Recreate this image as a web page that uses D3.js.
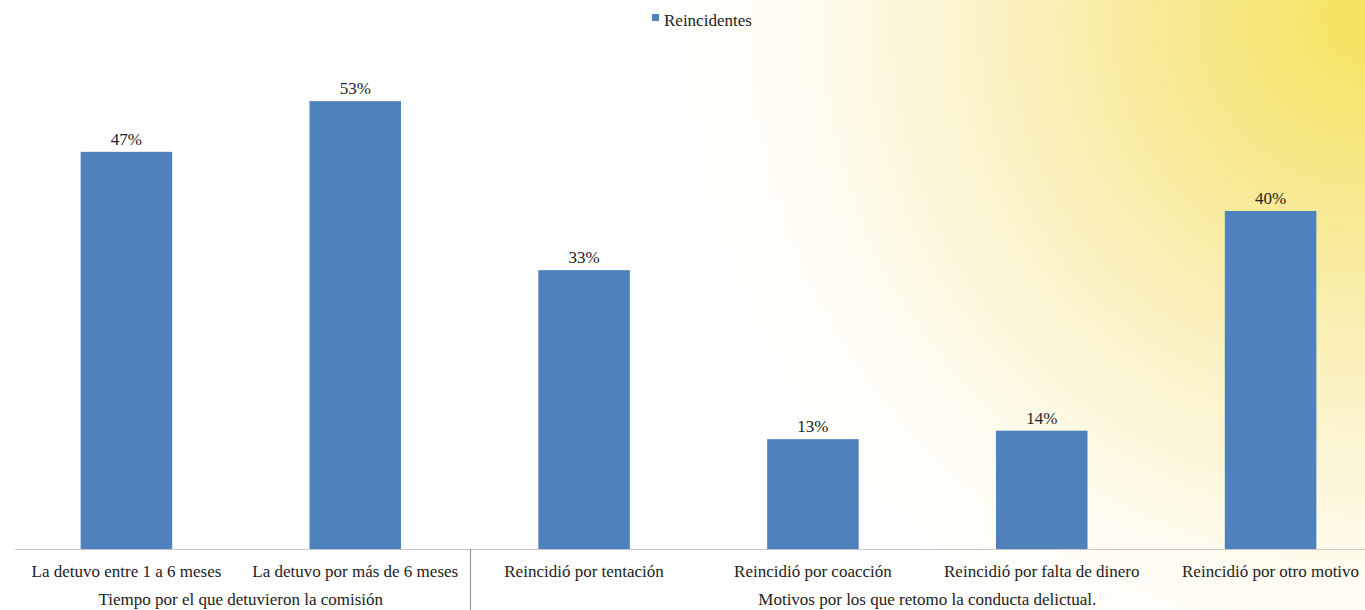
<!DOCTYPE html>
<html>
<head>
<meta charset="utf-8">
<script src="https://cdn.jsdelivr.net/npm/d3@7"></script>
<style>
  body { margin: 0; overflow: hidden; }
  svg text { font-family: "Liberation Serif", "DejaVu Serif", "Times New Roman", serif; }
</style>
</head>
<body>
<svg id="chart" width="1365" height="610"></svg>
<script>
// data
let categories = ["La detuvo entre 1 a 6 meses", "La detuvo por más de 6 meses",
                  "Reincidió por tentación", "Reincidió por coacción",
                  "Reincidió por falta de dinero", "Reincidió por otro motivo"];
let values = [47, 53, 33, 13, 14, 40];
let groups = ["Tiempo por el que detuvieron la comisión",
              "Motivos por los que retomo la conducta delictual."];
let group_of = [0, 0, 1, 1, 1, 1];
let series_name = "Reincidentes";

let font = "Liberation Serif";
let font_size = 17;
let chart = d3.select("#chart");
let chart_width = 1365, chart_height = 610;

// background glow in the top right corner
let defs = chart.append("defs");
let grad = defs.append("radialGradient")
    .attr("id", "glow")
    .attr("gradientUnits", "userSpaceOnUse")
    .attr("cx", 1365).attr("cy", 20).attr("r", 700);
grad.append("stop").attr("offset", "0%").attr("stop-color", "#f6e35c");
grad.append("stop").attr("offset", "25%").attr("stop-color", "#f7e98e");
grad.append("stop").attr("offset", "55%").attr("stop-color", "#fbf3c8");
grad.append("stop").attr("offset", "80%").attr("stop-color", "#fefcf0");
grad.append("stop").attr("offset", "100%").attr("stop-color", "#ffffff");

chart.append("rect")
    .attr("width", chart_width).attr("height", chart_height)
    .attr("fill", "url(#glow)");

// scales
let x = d3.scaleBand()
    .domain(categories)
    .range([12, 1385])
    .paddingInner(0.6)
    .paddingOuter(0.3);

let y = d3.scaleLinear()
    .domain([0, 60])
    .range([549, 42]);

// bars
chart.selectAll("rect.bar")
    .data(values).enter()
    .append("rect")
        .attr("class", "bar")
        .attr("x", function(d, i) { return x(categories[i]); })
        .attr("y", function(d) { return y(d); })
        .attr("width", x.bandwidth())
        .attr("height", function(d) { return y(0) - y(d); })
        .attr("fill", "#4f81bd");

// value labels
chart.selectAll("text.val")
    .data(values).enter()
    .append("text")
        .attr("class", "val")
        .attr("x", function(d, i) { return x(categories[i]) + x.bandwidth() / 2; })
        .attr("y", function(d) { return y(d) - 7; })
        .attr("text-anchor", "middle")
        .attr("font-family", font)
        .attr("font-size", font_size)
        .attr("fill", "#222")
        .text(function(d) { return d + "%"; });

// axis line
chart.append("line")
    .attr("x1", 15).attr("x2", chart_width)
    .attr("y1", y(0) + 0.5).attr("y2", y(0) + 0.5)
    .attr("stroke", "#c8c8c8").attr("stroke-width", 1);

// category labels
chart.selectAll("text.cat")
    .data(categories).enter()
    .append("text")
        .attr("class", "cat")
        .attr("x", function(d) { return x(d) + x.bandwidth() / 2; })
        .attr("y", 577)
        .attr("text-anchor", "middle")
        .attr("font-family", font)
        .attr("font-size", font_size)
        .attr("fill", "#222")
        .text(function(d) { return d; });

// group labels, centered under their categories
groups.forEach(function(g, gi) {
    let members = categories.filter(function(c, i) { return group_of[i] === gi; });
    let first = x(members[0]) + x.bandwidth() / 2;
    let last = x(members[members.length - 1]) + x.bandwidth() / 2;
    chart.append("text")
        .attr("x", (first + last) / 2)
        .attr("y", 605)
        .attr("text-anchor", "middle")
        .attr("font-family", font)
        .attr("font-size", font_size)
        .attr("fill", "#222")
        .text(g);
});

// separator between groups
let step = x.step();
let sep = x(categories[2]) - step * x.paddingInner() / 2;
chart.append("line")
    .attr("x1", Math.round(sep) + 0.5).attr("x2", Math.round(sep) + 0.5)
    .attr("y1", y(0)).attr("y2", chart_height)
    .attr("stroke", "#8c8c8c").attr("stroke-width", 1);

// legend
let legend = chart.append("g").attr("transform", "translate(652,14)");
legend.append("rect")
    .attr("width", 7).attr("height", 7)
    .attr("fill", "#4f81bd");
legend.append("text")
    .attr("x", 12).attr("y", 12)
    .attr("font-family", font)
    .attr("font-size", font_size)
    .attr("fill", "#222")
    .text(series_name);
</script>
</body>
</html>
